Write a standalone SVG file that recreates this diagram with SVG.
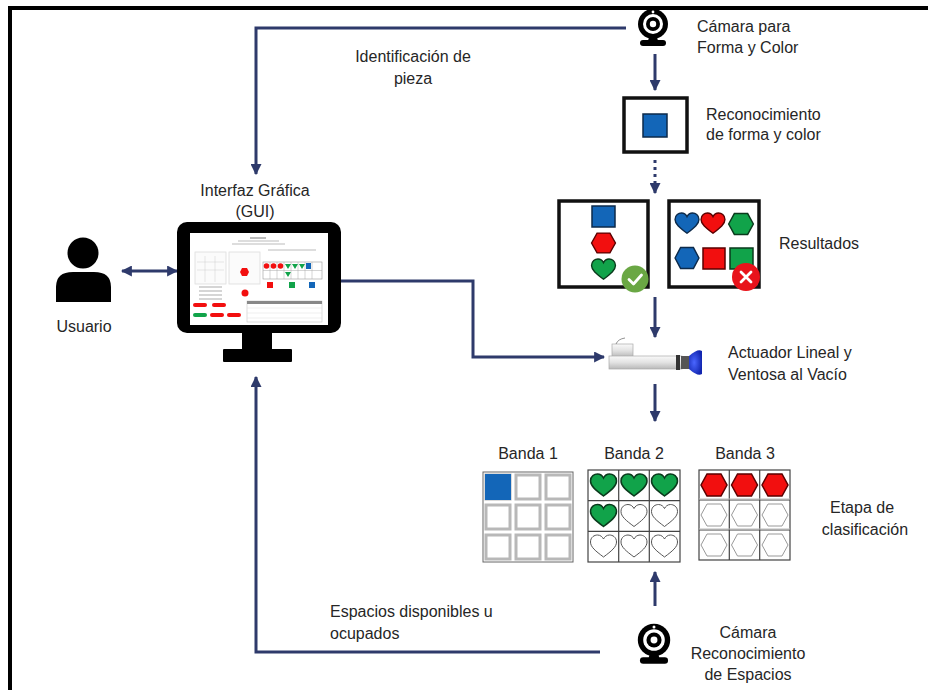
<svg xmlns="http://www.w3.org/2000/svg" width="928" height="690" viewBox="0 0 928 690">
  <defs>
    <style>
      .lbl { font-family: "Liberation Sans", Arial, sans-serif; font-size: 16px; fill: #262626; }
      .mid { text-anchor: middle; }
      .conn { fill: none; stroke: #2E3A6B; stroke-width: 3; }
      .dot { fill: none; stroke: #2E3A6B; stroke-width: 3; stroke-dasharray: 3 4; }
      .frame { fill: #fff; stroke: #111; stroke-width: 3.5; }
      .cellB { fill: #fff; stroke: #b8b8b8; stroke-width: 3; }
      .grid { fill: #fff; stroke: #444; stroke-width: 1.2; }
      .blue { fill: #1366B8; stroke: #0d2a4a; stroke-width: 1.5; }
      .red { fill: #F20F0F; stroke: #5a0000; stroke-width: 1.5; }
      .green { fill: #11A34A; stroke: #0a3a1c; stroke-width: 1.5; }
      .empty { fill: #fff; stroke: #555; stroke-width: 1; }
      .emptyHex { fill: #fff; stroke: #999; stroke-width: 1; }
    </style>
    <marker id="arr" viewBox="0 0 10 10" refX="9" refY="5" markerWidth="11" markerHeight="11" markerUnits="userSpaceOnUse" orient="auto-start-reverse">
      <path d="M0,0 L10,5 L0,10 Z" fill="#2E3A6B"/>
    </marker>
    <path id="heart" d="M0,10 C-8,4 -13,0 -13,-5 C-13,-10 -9,-12 -6,-12 C-3,-12 -1,-10 0,-8 C1,-10 3,-12 6,-12 C9,-12 13,-10 13,-5 C13,0 8,4 0,10 Z"/>
    <path id="hex" d="M-13,0 L-7,-11 L7,-11 L13,0 L7,11 L-7,11 Z"/>
    <g id="webcam">
      <circle cx="0" cy="0" r="15" fill="#000"/>
      <circle cx="0" cy="0" r="10" fill="#fff"/>
      <circle cx="0" cy="0" r="7" fill="#000"/>
      <circle cx="0" cy="0" r="3.2" fill="#fff"/>
      <circle cx="0" cy="-12" r="1.4" fill="#fff"/>
      <path d="M-4,13 L4,13 L5,17 L-5,17 Z" fill="#000"/>
      <rect x="-13" y="16" width="26" height="6" rx="3" fill="#000"/>
    </g>
    <linearGradient id="tube" x1="0" y1="0" x2="0" y2="1">
      <stop offset="0" stop-color="#fafafa"/>
      <stop offset="0.5" stop-color="#e2e2e2"/>
      <stop offset="1" stop-color="#b9b9b9"/>
    </linearGradient>
    <radialGradient id="cup" cx="0.4" cy="0.5" r="0.6">
      <stop offset="0" stop-color="#4a66ff"/>
      <stop offset="1" stop-color="#1226b0"/>
    </radialGradient>
  </defs>

  <!-- outer frame -->
  <rect x="10" y="8" width="940" height="700" fill="#fff" stroke="#000" stroke-width="4"/>

  <!-- connectors -->
  <g id="connectors">
    <path class="conn" d="M626 28 H256 V174" marker-end="url(#arr)"/>
    <path class="conn" d="M655 54 V90" marker-end="url(#arr)"/>
    <path class="dot" d="M655 160 V186"/>
    <path class="conn" d="M655 186 V193" marker-end="url(#arr)"/>
    <path class="conn" d="M655 297 V337" marker-end="url(#arr)"/>
    <path class="conn" d="M341 281 H473 V357 H604" marker-end="url(#arr)"/>
    <path class="conn" d="M655 384 V421" marker-end="url(#arr)"/>
    <path class="conn" d="M655 606 V572" marker-end="url(#arr)"/>
    <path class="conn" d="M600 652 H256 V377" marker-end="url(#arr)"/>
    <path class="conn" d="M122 271 H177" marker-start="url(#arr)" marker-end="url(#arr)"/>
    <text class="lbl mid" x="413" y="62">Identificación de</text>
    <text class="lbl mid" x="413" y="84">pieza</text>
    <text class="lbl" x="330" y="617">Espacios disponibles u</text>
    <text class="lbl" x="330" y="639">ocupados</text>
  </g>

  <!-- user -->
  <g id="usuario">
    <circle cx="83" cy="253" r="15.5" fill="#000"/>
    <path d="M56 302 V287 Q56 272 73 272 H94 Q111 272 111 287 V302 Z" fill="#000"/>
    <text class="lbl mid" x="84" y="332">Usuario</text>
  </g>

  <!-- GUI monitor -->
  <g id="gui">
    <text class="lbl mid" x="255" y="196">Interfaz Gráfica</text>
    <text class="lbl mid" x="255" y="217">(GUI)</text>
    <rect x="177" y="222" width="164" height="111" rx="10" fill="#000"/>
    <rect x="242" y="332" width="30" height="18" fill="#000"/>
    <rect x="223" y="349" width="69" height="13" rx="1" fill="#000"/>
    <rect x="190" y="233" width="138" height="92" fill="#fff"/>
    <!-- screen contents -->
    <g stroke="#aaa" stroke-width="0.8">
      <line x1="250" y1="238" x2="266" y2="238" stroke="#555"/>
      <line x1="238" y1="241" x2="279" y2="241"/>
      <line x1="232" y1="244" x2="285" y2="244"/>
      <rect x="195" y="252" width="31" height="32" fill="#fbfbfb" stroke="#ddd"/>
      <rect x="229" y="252" width="31" height="32" fill="#fbfbfb" stroke="#ddd"/>
      <line x1="268" y1="250" x2="316" y2="250"/>
    </g>
    <g stroke="#ccc" stroke-width="0.5">
      <line x1="197" y1="262" x2="224" y2="262"/><line x1="197" y1="270" x2="224" y2="270"/>
      <line x1="205" y1="256" x2="205" y2="282"/><line x1="215" y1="256" x2="215" y2="282"/>
    </g>
    <polygon points="240,272 242,268 247,268 249,272 247,276 242,276" fill="#F20F0F"/>
    <rect x="263" y="262" width="59" height="17" fill="#fff" stroke="#999" stroke-width="0.6"/>
    <g stroke="#aaa" stroke-width="0.5">
      <line x1="263" y1="270.5" x2="322" y2="270.5"/>
      <line x1="270" y1="262" x2="270" y2="279"/><line x1="277" y1="262" x2="277" y2="279"/>
      <line x1="284" y1="262" x2="284" y2="279"/><line x1="291" y1="262" x2="291" y2="279"/>
      <line x1="298" y1="262" x2="298" y2="279"/><line x1="305" y1="262" x2="305" y2="279"/>
      <line x1="312" y1="262" x2="312" y2="279"/>
    </g>
    <circle cx="266.5" cy="266" r="2.8" fill="#F20F0F"/>
    <circle cx="273.5" cy="266" r="2.8" fill="#F20F0F"/>
    <circle cx="280.5" cy="266" r="2.8" fill="#F20F0F"/>
    <path d="M285 264 L291 264 L288 269 Z M292 264 L298 264 L295 269 Z M299 264 L305 264 L302 269 Z M285 272 L291 272 L288 277 Z" fill="#11A34A"/>
    <rect x="306" y="263" width="5" height="6" fill="#1366B8"/>
    <rect x="267" y="282" width="6" height="6" fill="#F20F0F"/>
    <rect x="289" y="282" width="6" height="6" fill="#11A34A"/>
    <rect x="309" y="282" width="6" height="6" fill="#1366B8"/>
    <g stroke="#888" stroke-width="0.7">
      <line x1="199" y1="287" x2="222" y2="287"/><line x1="199" y1="291" x2="222" y2="291"/>
      <line x1="199" y1="295" x2="222" y2="295"/><line x1="199" y1="299" x2="222" y2="299"/>
    </g>
    <circle cx="245" cy="293" r="3.5" fill="#F20F0F"/>
    <rect x="193" y="303" width="14" height="4" rx="2" fill="#F20F0F"/>
    <rect x="212" y="303" width="14" height="4" rx="2" fill="#F20F0F"/>
    <rect x="193" y="313" width="14" height="4" rx="2" fill="#11A34A"/>
    <rect x="210" y="313" width="14" height="4" rx="2" fill="#F20F0F"/>
    <rect x="227" y="313" width="14" height="4" rx="2" fill="#F20F0F"/>
    <rect x="247" y="301" width="75" height="21" fill="#fff" stroke="#bbb" stroke-width="0.5"/>
    <rect x="247" y="301" width="75" height="3" fill="#888"/>
    <g stroke="#ddd" stroke-width="0.5">
      <line x1="247" y1="308" x2="322" y2="308"/><line x1="247" y1="313" x2="322" y2="313"/><line x1="247" y1="318" x2="322" y2="318"/>
    </g>
  </g>

  <!-- shape/colour camera -->
  <g id="camara-forma">
    <use href="#webcam" x="653" y="24"/>
    <text class="lbl" x="697" y="32">Cámara para</text>
    <text class="lbl" x="697" y="53">Forma y Color</text>
  </g>

  <!-- recognition -->
  <g id="reconocimiento">
    <rect class="frame" x="624" y="98" width="63" height="54"/>
    <rect class="blue" x="643" y="114" width="24" height="23"/>
    <text class="lbl" x="706" y="120">Reconocimiento</text>
    <text class="lbl" x="706" y="140">de forma y color</text>
  </g>

  <!-- results -->
  <g id="resultados">
    <rect class="frame" x="559" y="201" width="89" height="86"/>
    <rect class="blue" x="592" y="206" width="23" height="21"/>
    <use href="#hex" class="red" transform="translate(603.5 243) scale(0.92 0.9)"/>
    <use href="#heart" class="green" transform="translate(603.5 270) scale(0.92)"/>
    <circle cx="635" cy="279" r="13.5" fill="#6AA744"/>
    <path d="M629 279.5 L633.5 284 L641.5 275" fill="none" stroke="#fff" stroke-width="2.8" stroke-linecap="round" stroke-linejoin="round"/>

    <rect class="frame" x="669" y="201" width="90" height="86"/>
    <use href="#heart" class="blue" transform="translate(687 224) scale(0.92)"/>
    <use href="#heart" class="red" transform="translate(713 224) scale(0.92)"/>
    <use href="#hex" class="green" transform="translate(741 224) scale(0.95 0.95)"/>
    <use href="#hex" class="blue" transform="translate(687 258) scale(0.92 0.95)"/>
    <rect class="red" x="703" y="248" width="22" height="21"/>
    <rect class="green" x="730" y="248" width="23" height="21"/>
    <circle cx="746" cy="277" r="14" fill="#E8131B"/>
    <path d="M741 272 L751 282 M751 272 L741 282" stroke="#fff" stroke-width="2.8" stroke-linecap="round"/>
    <text class="lbl" x="779" y="249">Resultados</text>
  </g>

  <!-- linear actuator with suction cup -->
  <g id="actuador">
    <rect x="612" y="344" width="21" height="13" fill="url(#tube)" stroke="#aaa" stroke-width="0.7"/>
    <path d="M616 344 Q618 339 625 338" fill="none" stroke="#777" stroke-width="0.8"/>
    <rect x="609" y="356" width="73" height="13" fill="url(#tube)" stroke="#aaa" stroke-width="0.7"/>
    <rect x="676" y="355" width="4" height="15" fill="#333"/>
    <rect x="681" y="356" width="8" height="13" fill="#555"/>
    <path d="M689 356 Q698 348 702 351 V374 Q698 377 689 369 Z" fill="url(#cup)"/>
    <text class="lbl" x="728" y="358">Actuador Lineal y</text>
    <text class="lbl" x="728" y="380">Ventosa al Vacío</text>
  </g>

  <!-- band 1 -->
  <g id="banda-1">
    <text class="lbl mid" x="528" y="459">Banda 1</text>
    <rect x="483" y="472" width="90" height="90" fill="#fff" stroke="#666" stroke-width="1"/>
    <g>
      <rect class="cellB" x="486" y="475" width="24" height="24"/>
      <rect class="cellB" x="516" y="475" width="24" height="24"/>
      <rect class="cellB" x="546" y="475" width="24" height="24"/>
      <rect class="cellB" x="486" y="505" width="24" height="24"/>
      <rect class="cellB" x="516" y="505" width="24" height="24"/>
      <rect class="cellB" x="546" y="505" width="24" height="24"/>
      <rect class="cellB" x="486" y="535" width="24" height="24"/>
      <rect class="cellB" x="516" y="535" width="24" height="24"/>
      <rect class="cellB" x="546" y="535" width="24" height="24"/>
    </g>
    <rect x="485" y="474" width="26" height="26" fill="#1366B8"/>
  </g>

  <!-- band 2 -->
  <g id="banda-2">
    <text class="lbl mid" x="634" y="459">Banda 2</text>
    <rect class="grid" x="588" y="470" width="92" height="92"/>
    <path d="M618.7 470 V562 M649.3 470 V562 M588 500.7 H680 M588 531.3 H680" stroke="#444" stroke-width="1.2"/>
    <use href="#heart" class="green" transform="translate(603.5 486)"/>
    <use href="#heart" class="green" transform="translate(634 486)"/>
    <use href="#heart" class="green" transform="translate(664.5 486)"/>
    <use href="#heart" class="green" transform="translate(603.5 516.5)"/>
    <use href="#heart" class="empty" transform="translate(634 516.5)"/>
    <use href="#heart" class="empty" transform="translate(664.5 516.5)"/>
    <use href="#heart" class="empty" transform="translate(603.5 547)"/>
    <use href="#heart" class="empty" transform="translate(634 547)"/>
    <use href="#heart" class="empty" transform="translate(664.5 547)"/>
  </g>

  <!-- band 3 -->
  <g id="banda-3">
    <text class="lbl mid" x="745" y="459">Banda 3</text>
    <rect class="grid" x="699" y="470" width="91" height="90"/>
    <path d="M729.3 470 V560 M759.7 470 V560 M699 500 H790 M699 530 H790" stroke="#444" stroke-width="1.2"/>
    <path d="M699 499 H790 M699 529 H790" stroke="#bbb" stroke-width="1"/>
    <use href="#hex" class="red" transform="translate(714 485)"/>
    <use href="#hex" class="red" transform="translate(744.5 485)"/>
    <use href="#hex" class="red" transform="translate(775 485)"/>
    <use href="#hex" class="emptyHex" transform="translate(714 515)"/>
    <use href="#hex" class="emptyHex" transform="translate(744.5 515)"/>
    <use href="#hex" class="emptyHex" transform="translate(775 515)"/>
    <use href="#hex" class="emptyHex" transform="translate(714 545)"/>
    <use href="#hex" class="emptyHex" transform="translate(744.5 545)"/>
    <use href="#hex" class="emptyHex" transform="translate(775 545)"/>
  </g>

  <g id="etapa">
    <text class="lbl mid" x="862" y="513">Etapa de</text>
    <text class="lbl mid" x="865" y="535">clasificación</text>
  </g>

  <!-- space-recognition camera -->
  <g id="camara-espacios">
    <use href="#webcam" transform="translate(654 640) scale(1.08)"/>
    <text class="lbl mid" x="748" y="638">Cámara</text>
    <text class="lbl mid" x="748" y="659">Reconocimiento</text>
    <text class="lbl mid" x="748" y="680">de Espacios</text>
  </g>
</svg>
